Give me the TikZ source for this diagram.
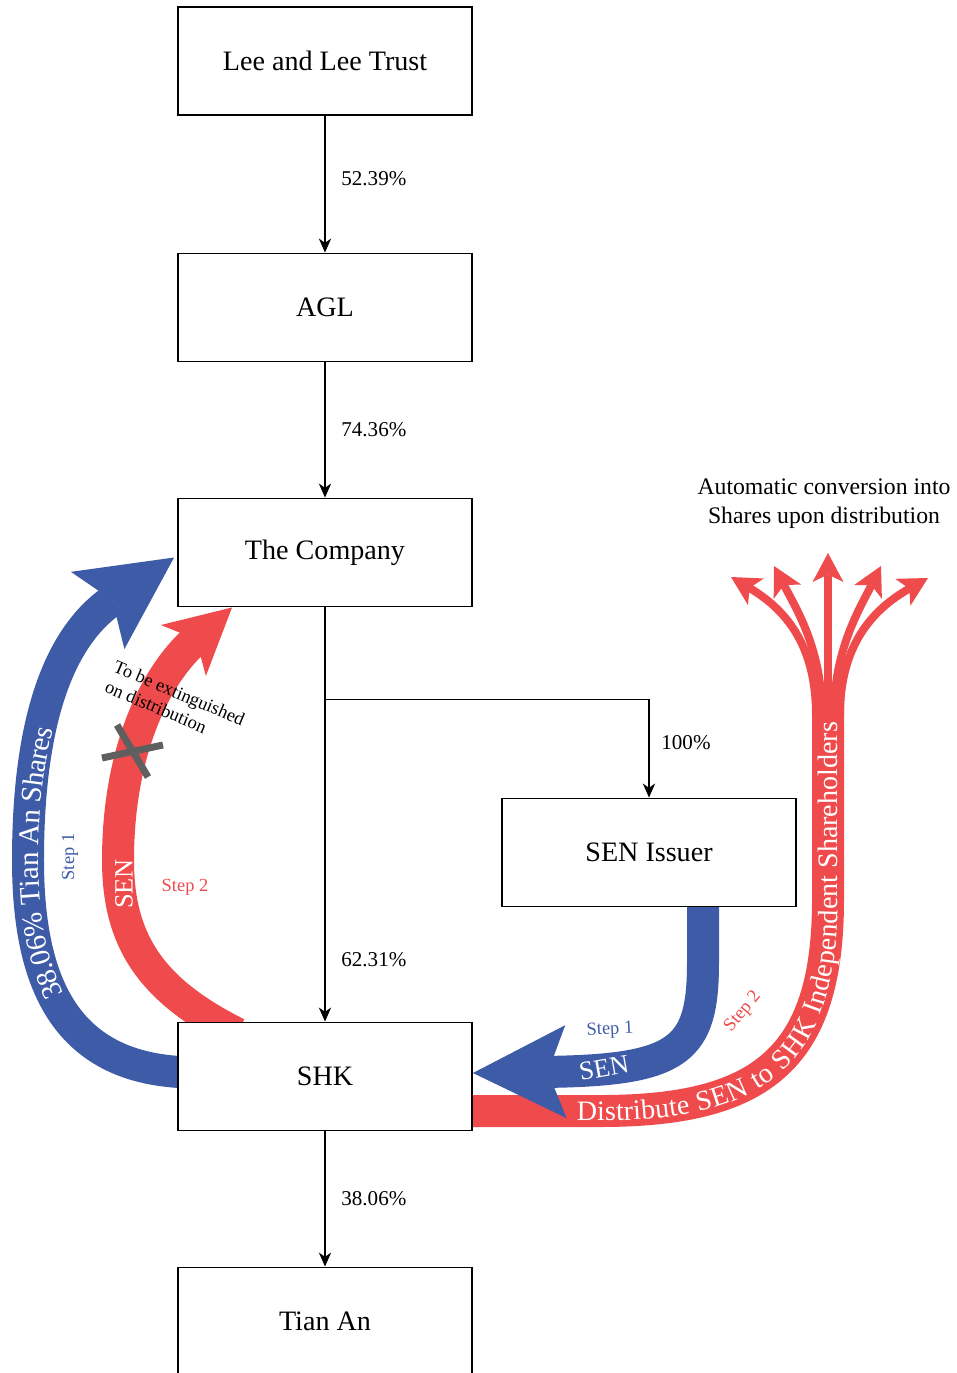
\documentclass[tikz,border=0pt]{standalone}
\usepackage{fontspec}
\setmainfont{Liberation Serif}
\usepackage{xcolor}
\definecolor{bandred}{RGB}{239,75,76}
\definecolor{bandblue}{RGB}{62,91,168}
\definecolor{crossgray}{RGB}{95,95,95}
\usepackage{tikz}
\usetikzlibrary{calc}
\usetikzlibrary{arrows.meta,backgrounds,decorations.text}
\newcommand{\BandTip}[3]{-{Stealth[length=#1,width=#2,inset=#3,line width=0pt]}}

\begin{document}
\begin{tikzpicture}[x=0.02cm,y=0.02cm]
	\tikzstyle{box}=[draw,fill=white,line width=1.1pt,minimum width=5.88cm,minimum height=2.16cm,font=\fontsize{16}{19}\selectfont];
	\tikzstyle{conn}=[line width=0.6pt,-{Stealth[length=8pt,width=7pt,inset=2.5pt]}];
	\tikzstyle{pct}=[font=\fontsize{12}{14}\selectfont,anchor=west];
	\tikzstyle{small}=[font=\fontsize{10.5}{12.5}\selectfont];
	\tikzstyle{blueband}=[draw=bandblue,line width=0.64cm];
	\tikzstyle{redband}=[draw=bandred,line width=0.64cm];
	\tikzstyle{ontext}=[text=white,font=\fontsize{15}{18}\selectfont];
	%%
	\useasboundingbox (0,0) rectangle (957,-1373);
	%%
	\node[box] (trust)  at (325,-61)     {Lee and Lee Trust};
	\node[box] (agl)    at (325,-307.5)  {AGL};
	\node[box] (comp)   at (325,-552.5)  {The Company};
	\node[box] (issuer) at (649,-852.5)  {SEN Issuer};
	\node[box] (shk)    at (325,-1076.5) {SHK};
	\node[box] (tian)   at (325,-1321.5) {Tian An};
	\coordinate (split) at ($(comp.south)+(0,-92)$);
	%%
	\draw[conn] (trust) -- (agl) node[pct,pos=0.46,xshift=0.2cm] {52.39\%};
	\draw[conn] (agl) -- (comp) node[pct,midway,xshift=0.2cm] {74.36\%};
	\draw[conn] (comp) -- (shk) node[pct,pos=0.85,xshift=0.2cm] {62.31\%};
	\draw[conn] (split) -| (issuer) node[pct,pos=0.72,xshift=0.12cm] {100\%};
	\draw[conn] (shk) -- (tian) node[pct,midway,xshift=0.2cm] {38.06\%};
	%%
	\begin{scope}[on background layer]
		% step 1: Tian An shares go up to the Company
		\draw[blueband,\BandTip{1.86cm}{1.88cm}{0.36cm},
			postaction={decorate,decoration={text along path,text color=white,raise=-6pt,
				text align={left indent=3.4cm},
				text={|\fontsize{16.5}{20}\selectfont|38.06{\%} Tian An Shares}}}]
			($(shk.west)+(20,4)$) .. controls (70,-1073) and (28,-990) .. (28,-860)
			.. controls (28,-730) and (55,-640) .. ($(comp.west)+(-3,-5)$);
		% step 2: SEN back to the Company
		\draw[redband,\BandTip{1.3cm}{1.36cm}{0.34cm}]
			($(shk.north west)+(60,-12)$) .. controls (150,-990) and (118,-940) .. (118,-860)
			.. controls (118,-760) and (150,-680) .. ($(comp.south west)+(55,0)$);
		% step 2: distribution
		\draw[redband,
			postaction={decorate,decoration={text along path,text color=white,raise=-5.5pt,
				text align={left indent=2.48cm},
				text={|\fontsize{16}{19}\selectfont|Distribute SEN to SHK Independent Shareholders}}}]
			($(shk.east)+(-20,-34.5)$) -- (600,-1111) .. controls (760,-1111) and (828,-1060) .. (828,-900) -- (828,-700);
		\foreach \sx/\cx/\cy/\tx/\ty in {816/790/-612/731/-577,822/797/-610/774/-566,828/828/-600/828/-553,834/859/-610/881/-566,840/868/-612/928/-578}
			\draw[draw=bandred,line width=0.16cm,\BandTip{0.58cm}{0.62cm}{0.15cm}]
				(\sx,-715) .. controls (\sx,-650) and (\cx,\cy) .. (\tx,\ty);
		% step 1: SEN to SHK
		\draw[blueband,\BandTip{1.86cm}{1.86cm}{0.36cm}]
			($(issuer.south)+(54,15)$) -- ++(0,-70) .. controls (703,-1050) and (680,-1070) .. ($(shk.east)+(0,3.5)$);
	\end{scope}
	%%
	\draw[crossgray,line width=0.14cm] (117,-725) -- (148,-777);
	\draw[crossgray,line width=0.14cm] (102,-758) -- (163,-745);
	%%
	\node[small,text=bandblue,rotate=90] (stepa) at (70,-857)   {Step 1};
	\node[small,text=bandred]            (stepb) at (185,-887)  {Step 2};
	\node[small,text=bandblue,rotate=3]  (stepc) at (610,-1030) {Step 1};
	\node[small,text=bandred,rotate=50]  (stepd) at (743,-1012) {Step 2};
	\node[ontext,rotate=90] (sena) at (124,-884)  {SEN};
	\node[ontext,rotate=10] (senb) at (604,-1068) {SEN};
	\node[small,align=left,rotate=-23] (extinct) at (175,-703) {To be extinguished\\on distribution};
	\node[font=\fontsize{13.5}{16.5}\selectfont,align=center] (autoconv) at (824,-504) {Automatic conversion into\\Shares upon distribution};
\end{tikzpicture}
\end{document}
